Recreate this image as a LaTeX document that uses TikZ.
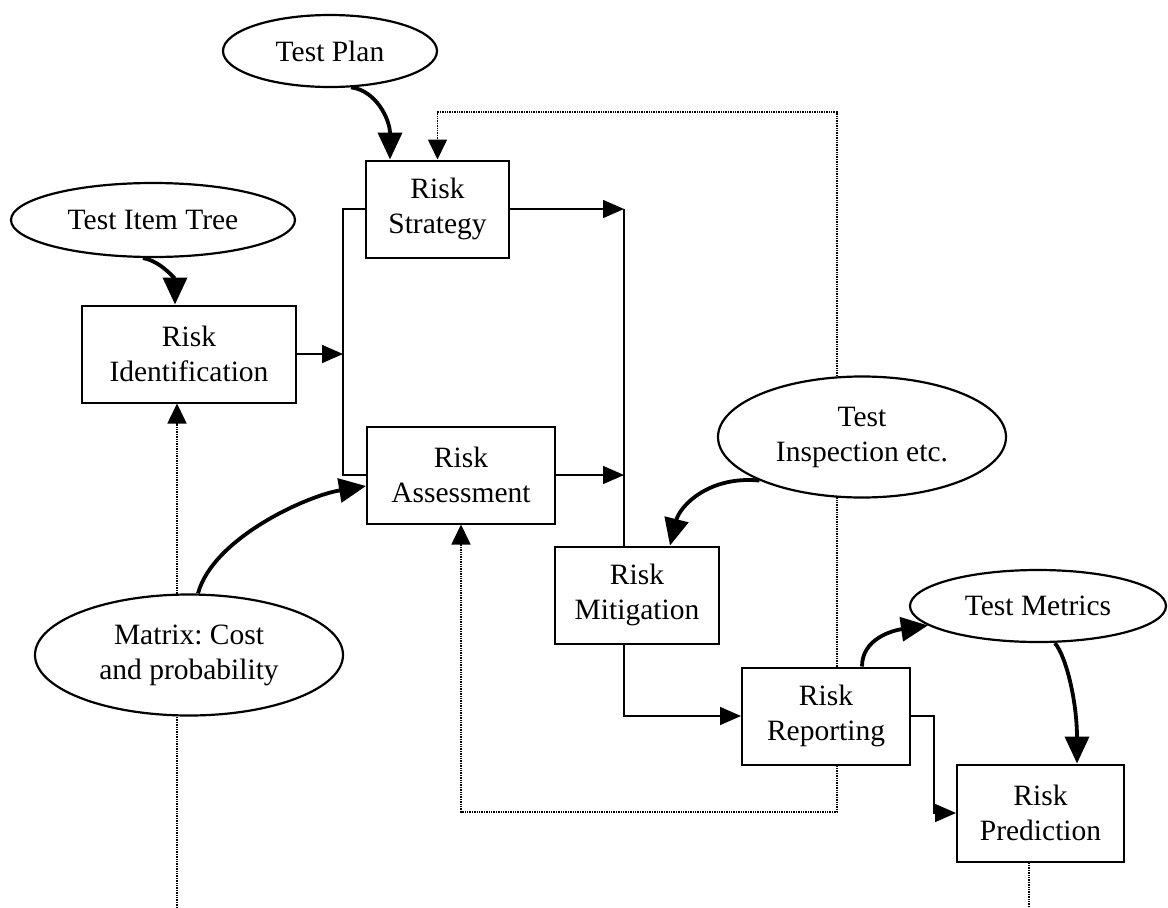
\documentclass[tikz,border=0pt]{standalone}
\usepackage{fontspec}
\setmainfont{Liberation Serif}
\frenchspacing
\usetikzlibrary{arrows.meta,shapes.geometric,backgrounds}
\begin{document}
\begin{tikzpicture}[x=1pt,y=-1pt,
  every node/.style={font=\fontsize{29.5}{35}\selectfont, align=center, inner sep=0pt},
  stage/.style={draw, rectangle, line width=2pt, fill=white, minimum height=97pt},
  source/.style={draw, ellipse, line width=2.2pt, fill=white},
  wire/.style={line width=1.6pt},
  flow/.style={wire, -{Triangle[length=21pt,width=18pt]}},
  feed/.style={line width=3.8pt, -{Triangle[length=27pt,width=24pt]}},
  loopline/.style={line width=1.6pt, dash pattern=on 1.4pt off 1pt},
  looparrow/.style={loopline, -{Triangle[length=20pt,width=19pt]}}
]
\useasboundingbox (0,0) rectangle (1168,908);

% process stages
\node[stage, minimum width=143pt] (strat)   at (437.5,209) {Risk\\Strategy};
\node[stage, minimum width=214pt] (ident)   at (189,354)   {Risk\\Identification};
\node[stage, minimum width=188pt] (assess)  at (461,475)   {Risk\\Assessment};
\node[stage, minimum width=164pt] (mitig)   at (637,595)   {Risk\\Mitigation};
\node[stage, minimum width=168pt] (report)  at (826,716)   {Risk\\Reporting};
\node[stage, minimum width=167pt] (predict) at (1040.5,813) {Risk\\Prediction};

% inputs and outputs
\node[source, minimum width=214pt, minimum height=72pt]  (plan)    at (330,51)   {Test Plan};
\node[source, minimum width=284pt, minimum height=74pt]  (tree)    at (153,220)  {Test Item Tree};
\node[source, minimum width=308pt, minimum height=121pt] (matrix)  at (189,655)  {Matrix: Cost\\and probability};
\node[source, minimum width=288pt, minimum height=121pt] (insp)    at (862,437)  {Test\\Inspection etc.};
\node[source, minimum width=256pt, minimum height=72pt]  (metrics) at (1038,606) {Test Metrics};

% junction lines and loop corners
\coordinate (jl) at (343,209);
\coordinate (jr) at (624,209);
\coordinate (loopne) at (837,112);
\coordinate (loopse) at (837,812);
\coordinate (foot1) at (177,908);
\coordinate (foot2) at (1029,908);

\begin{scope}[on background layer]
  % main flow
  \draw[wire] (strat.west) -- (jl) |- (assess.west);
  \draw[flow] (ident.east) -- (ident.east -| jl);
  \draw[flow] (strat.east) -- (jr);
  \draw[flow] (assess.east) -- (assess.east -| jr);
  \draw[wire] (jr) -- (jr |- mitig.north);
  \draw[flow] (jr |- mitig.south) |- (report.west);
  \draw[flow] (report.east) -- ++(23,0) |- (predict.west);

  % feedback loops
  \draw[looparrow] ([xshift=11pt]report.north) -- (loopne) -| (strat.north);
  \draw[looparrow] ([xshift=11pt]report.south) -- (loopse) -| (assess.south);
  \draw[looparrow] (foot1) -- (foot1 |- ident.south);
  \draw[loopline] (predict.south -| foot2) -- (foot2);

  % inputs
  \draw[feed] (plan.-60) .. controls +(25,3) and +(0,-40) .. ([xshift=-47.5pt]strat.north);
  \draw[feed] ([xshift=-10pt]tree.south) .. controls +(18,3) and +(0,-25) .. ([xshift=-14pt]ident.north);
  \draw[feed] ([xshift=9pt]matrix.north) .. controls +(15,-55) and +(-60,10) .. ([yshift=-11pt]assess.west);
  \draw[feed] (insp.-157) .. controls +(-50,-5) and +(10,-40) .. ([xshift=33pt]mitig.north);
  \draw[feed] ([xshift=36pt]report.north) .. controls +(0,-28) and +(-35,5) .. (metrics.-170);
  \draw[feed] ([xshift=17pt]metrics.south) .. controls +(12,15) and +(0,-60) .. ([xshift=36.5pt]predict.north);
\end{scope}
\end{tikzpicture}
\end{document}
